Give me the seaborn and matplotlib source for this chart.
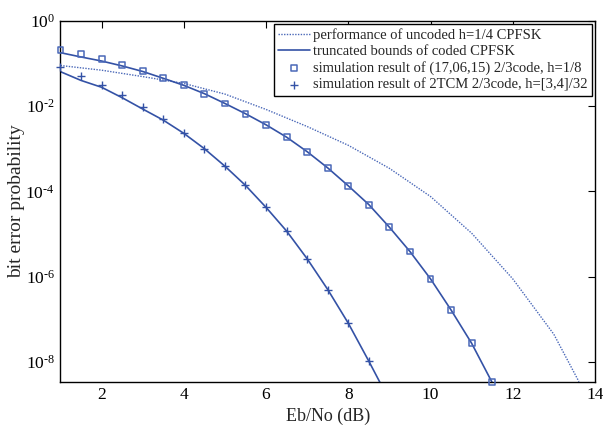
import numpy as np
import pandas as pd
import matplotlib
matplotlib.use("Agg")
import matplotlib.pyplot as plt
import seaborn as sns
from matplotlib.ticker import FixedLocator, NullLocator, FixedFormatter

# ---- data (log10 of bit error probability) ----
uncoded_x = [1, 2, 3, 4, 5, 6, 7, 8, 9, 10, 11, 12, 13, 13.61]
uncoded_log = [-1.05, -1.16, -1.31, -1.47, -1.72, -2.08, -2.48, -2.92, -3.46,
               -4.12, -4.98, -6.05, -7.35, -8.46]

bound_x = [1, 1.5, 2, 2.5, 3, 3.5, 4, 4.5, 5, 5.5, 6, 6.5, 7, 7.5, 8, 8.5,
           9, 9.5, 10, 10.5, 11, 11.5]
bound_log = [-0.75, -0.85, -0.945, -1.06, -1.19, -1.35, -1.515, -1.71, -1.94,
             -2.18, -2.44, -2.73, -3.07, -3.45, -3.87, -4.31, -4.84, -5.41,
             -6.05, -6.78, -7.56, -8.48]

sim1_x = [1, 1.5, 2, 2.5, 3, 3.5, 4, 4.5, 5, 5.5, 6, 6.5, 7, 7.5, 8, 8.5,
          9, 9.5, 10, 10.5, 11, 11.5]
sim1_log = [-0.687, -0.788, -0.905, -1.03, -1.17, -1.34, -1.515, -1.71, -1.94,
            -2.18, -2.44, -2.73, -3.07, -3.45, -3.87, -4.31, -4.84, -5.41,
            -6.05, -6.78, -7.56, -8.46]

bound2_x = [1, 1.5, 2, 2.5, 3, 3.5, 4, 4.5, 5, 5.5, 6, 6.5, 7, 7.5, 8, 8.5, 9]
bound2_log = [-1.195, -1.40, -1.56, -1.805, -2.07, -2.33, -2.64, -3.0, -3.41,
              -3.86, -4.375, -4.93, -5.58, -6.30, -7.09, -7.98, -8.9]

sim2_x = [1, 1.5, 2, 2.5, 3, 3.5, 4, 4.5, 5, 5.5, 6, 6.5, 7, 7.5, 8, 8.5]
sim2_log = [-1.09, -1.29, -1.51, -1.74, -2.02, -2.30, -2.64, -3.0, -3.41,
            -3.86, -4.375, -4.93, -5.58, -6.30, -7.09, -7.98]

labels = ["performance of uncoded h=1/4 CPFSK",
          "truncated bounds of coded CPFSK",
          "simulation result of (17,06,15) 2/3code, h=1/8",
          "simulation result of 2TCM 2/3code, h=[3,4]/32"]

x_ticks = [2, 4, 6, 8, 10, 12, 14]
y_ticks = [1e-8, 1e-6, 1e-4, 1e-2, 1e0]
y_tick_labels = [r"$10^{\text{-}8}$", r"$10^{\text{-}6}$", r"$10^{\text{-}4}$",
                 r"$10^{\text{-}2}$", r"$10^{0}$"]

# ---- style ----
sns.set_style("white")
plt.rcParams['font.family'] = ['Liberation Serif', 'DejaVu Serif']
plt.rcParams['mathtext.fontset'] = 'custom'
plt.rcParams['mathtext.rm'] = 'Liberation Serif'
plt.rcParams['mathtext.it'] = 'Liberation Serif:italic'
plt.rcParams['mathtext.bf'] = 'Liberation Serif:bold'
plt.rcParams['mathtext.default'] = 'regular'

blue = "#3452a6"
blue_light = "#4a68b8"

df_unc = pd.DataFrame({"x": uncoded_x, "y": 10.0 ** np.array(uncoded_log)})
df_b1 = pd.DataFrame({"x": bound_x, "y": 10.0 ** np.array(bound_log)})
df_b2 = pd.DataFrame({"x": bound2_x, "y": 10.0 ** np.array(bound2_log)})
df_s1 = pd.DataFrame({"x": sim1_x, "y": 10.0 ** np.array(sim1_log)})
df_s2 = pd.DataFrame({"x": sim2_x, "y": 10.0 ** np.array(sim2_log)})

fig = plt.figure(figsize=(6.03, 4.25), dpi=100)
ax = fig.add_axes([0.1003, 0.1019, 0.8864, 0.8494])

sns.lineplot(data=df_unc, x="x", y="y", ax=ax, color=blue_light, lw=1.0,
             linestyle=(0, (1, 1)), label=labels[0])
sns.lineplot(data=df_b1, x="x", y="y", ax=ax, color=blue, lw=1.2,
             label=labels[1])
sns.lineplot(data=df_b2, x="x", y="y", ax=ax, color=blue, lw=1.2,
             label="_nolegend_")
sns.scatterplot(data=df_s1, x="x", y="y", ax=ax, marker="s", s=18,
                facecolor="none", edgecolor=blue_light, linewidth=1.1,
                label=labels[2], zorder=3, clip_on=False)
sns.scatterplot(data=df_s2, x="x", y="y", ax=ax, marker="+", s=26,
                color=blue, linewidth=1.0, label=labels[3], zorder=3,
                clip_on=False)

ax.set_yscale("log")
ax.set_xlim(1, 14)
ax.set_ylim(10 ** -8.46, 1)
ax.xaxis.set_major_locator(FixedLocator(x_ticks))
ax.yaxis.set_major_locator(FixedLocator(y_ticks))
ax.yaxis.set_major_formatter(FixedFormatter(y_tick_labels))
ax.yaxis.set_minor_locator(NullLocator())
ax.xaxis.set_minor_locator(NullLocator())
ax.tick_params(direction="in", length=5, width=0.8, top=True, right=True,
               labelsize=12.5, colors="black", pad=4)
for sp in ax.spines.values():
    sp.set_visible(True)
    sp.set_color("black")
    sp.set_linewidth(1.0)

ax.set_xlabel("Eb/No (dB)", fontsize=13, labelpad=3)
ax.set_ylabel("bit error probability", fontsize=14)
ax.yaxis.set_label_coords(-0.0655, 0.5)

leg = ax.legend(loc="upper right", fontsize=10.5, frameon=True, fancybox=False,
                edgecolor="black", framealpha=1, borderpad=0.3,
                handlelength=2.2, handletextpad=0.2, labelspacing=0.22,
                borderaxespad=0.2)
leg.get_frame().set_linewidth(1.0)

fig.savefig("out.png", dpi=100)
